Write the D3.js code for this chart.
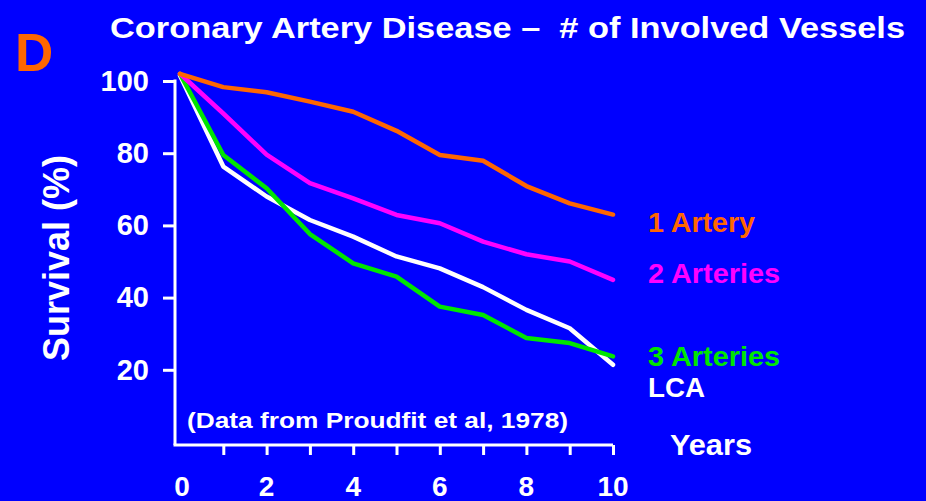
<!DOCTYPE html>
<html>
<head>
<meta charset="utf-8">
<script src="https://d3js.org/d3.v7.min.js"></script>
<style>
  body { margin: 0; background: #0000ff; }
  svg text { font-family: "Liberation Sans", Arial, Helvetica, sans-serif; font-weight: bold; }
  .axis path, .axis line { stroke: #fff; stroke-width: 3px; }
  .axis text { fill: #fff; font-size: 28px; }
  .line { fill: none; stroke-width: 4.5px; stroke-linejoin: round; stroke-linecap: round; }
</style>
</head>
<body>
<script>
// data (survival %, by year)
var years = [0, 1, 2, 3, 4, 5, 6, 7, 8, 9, 10];
var oneArtery   = [102, 98.3, 96.9, 94.3, 91.5, 86.2, 79.5, 77.9, 70.9, 66.1, 63.0];
var twoArteries = [102, 91.0, 79.6, 71.7, 67.5, 62.9, 60.6, 55.5, 52.0, 50.0, 44.9];
var threeArteries = [102, 79.5, 70.3, 57.6, 49.5, 45.8, 37.5, 35.2, 28.8, 27.4, 23.7];
var lca         = [101.5, 76.3, 68.0, 61.5, 56.9, 51.4, 48.1, 42.9, 36.6, 31.5, 21.4];

var seriesNames = ["1 Artery", "2 Arteries", "3 Arteries", "LCA"];
var seriesColors = ["#ff6600", "#ff00ff", "#00e600", "#ffffff"];
var yTicks = [20, 40, 60, 80, 100];
var xTickLabels = [0, 2, 4, 6, 8, 10];

var W = 926, H = 501;

var x = d3.scaleLinear().domain([0, 10]).range([180, 613]);
var y = d3.scaleLinear().domain([0, 100]).range([442, 81]);
var xAxisY = 445, yAxisX = 175;

var svg = d3.select("body").append("svg")
    .attr("width", W).attr("height", H);

svg.append("rect").attr("width", W).attr("height", H).attr("fill", "#0000ff");

// title and panel letter
svg.append("text").attr("x", 110).attr("y", 38)
    .attr("fill", "#fff").style("font-size", "30px")
    .attr("textLength", 795).attr("lengthAdjust", "spacingAndGlyphs")
    .text("Coronary Artery Disease \u2013\u00a0 # of Involved Vessels");
svg.append("text").attr("x", 15).attr("y", 71)
    .attr("fill", "#ff6600").style("font-size", "53px")
    .text("D");

// Y axis
var yAxis = d3.axisLeft(y).tickValues(yTicks).tickSize(12).tickPadding(14);
var gy = svg.append("g").attr("class", "axis")
    .attr("transform", "translate(" + yAxisX + ",0)")
    .call(yAxis);
gy.select(".domain").remove();
gy.selectAll(".tick text").style("font-size", "29px");
gy.append("line").attr("x1", 0).attr("x2", 0)
    .attr("y1", y(100) - 1.5).attr("y2", xAxisY);

// X axis
var xAxis = d3.axisBottom(x).tickValues(years.slice(1)).tickSize(10).tickFormat("");
var gx = svg.append("g").attr("class", "axis")
    .attr("transform", "translate(0," + xAxisY + ")")
    .call(xAxis);
gx.select(".domain").remove();
gx.append("line").attr("x1", yAxisX - 1.5).attr("x2", x(10)).attr("y1", 0).attr("y2", 0);
gx.selectAll(".xlab").data(xTickLabels).enter().append("text")
    .attr("class", "xlab")
    .attr("x", function(d) { return x(d) + (d === 0 ? 2 : 0); })
    .attr("y", 51)
    .attr("text-anchor", "middle")
    .text(function(d) { return d; });

// axis titles
svg.append("text")
    .attr("transform", "translate(69,258) rotate(-90)")
    .attr("text-anchor", "middle")
    .attr("fill", "#fff").style("font-size", "36px")
    .text("Survival (%)");
svg.append("text").attr("x", 670).attr("y", 455)
    .attr("fill", "#fff").style("font-size", "29px")
    .attr("textLength", 82).attr("lengthAdjust", "spacingAndGlyphs")
    .text("Years");

// lines
var allSeries = [oneArtery, twoArteries, threeArteries, lca];
var line = d3.line()
    .x(function(d, i) { return x(years[i]); })
    .y(function(d) { return y(d); });

svg.selectAll(".line").data(allSeries.slice().reverse()).enter().append("path")
    .attr("class", "line")
    .attr("stroke", function(d, i) { return seriesColors[3 - i]; })
    .attr("d", line);

// series labels
var labelY = [232, 283, 366, 397];
var labelW = [107, 132, 132, 57];
svg.selectAll(".slab").data(seriesNames).enter().append("text")
    .attr("class", "slab")
    .attr("x", 648)
    .attr("y", function(d, i) { return labelY[i]; })
    .attr("fill", function(d, i) { return seriesColors[i]; })
    .attr("textLength", function(d, i) { return labelW[i]; })
    .attr("lengthAdjust", "spacingAndGlyphs")
    .style("font-size", "28px")
    .text(function(d) { return d; });

// source note
svg.append("text").attr("x", 187).attr("y", 428)
    .attr("fill", "#fff").style("font-size", "22px")
    .attr("textLength", 381).attr("lengthAdjust", "spacingAndGlyphs")
    .text("(Data from Proudfit et al, 1978)");
</script>
</body>
</html>
